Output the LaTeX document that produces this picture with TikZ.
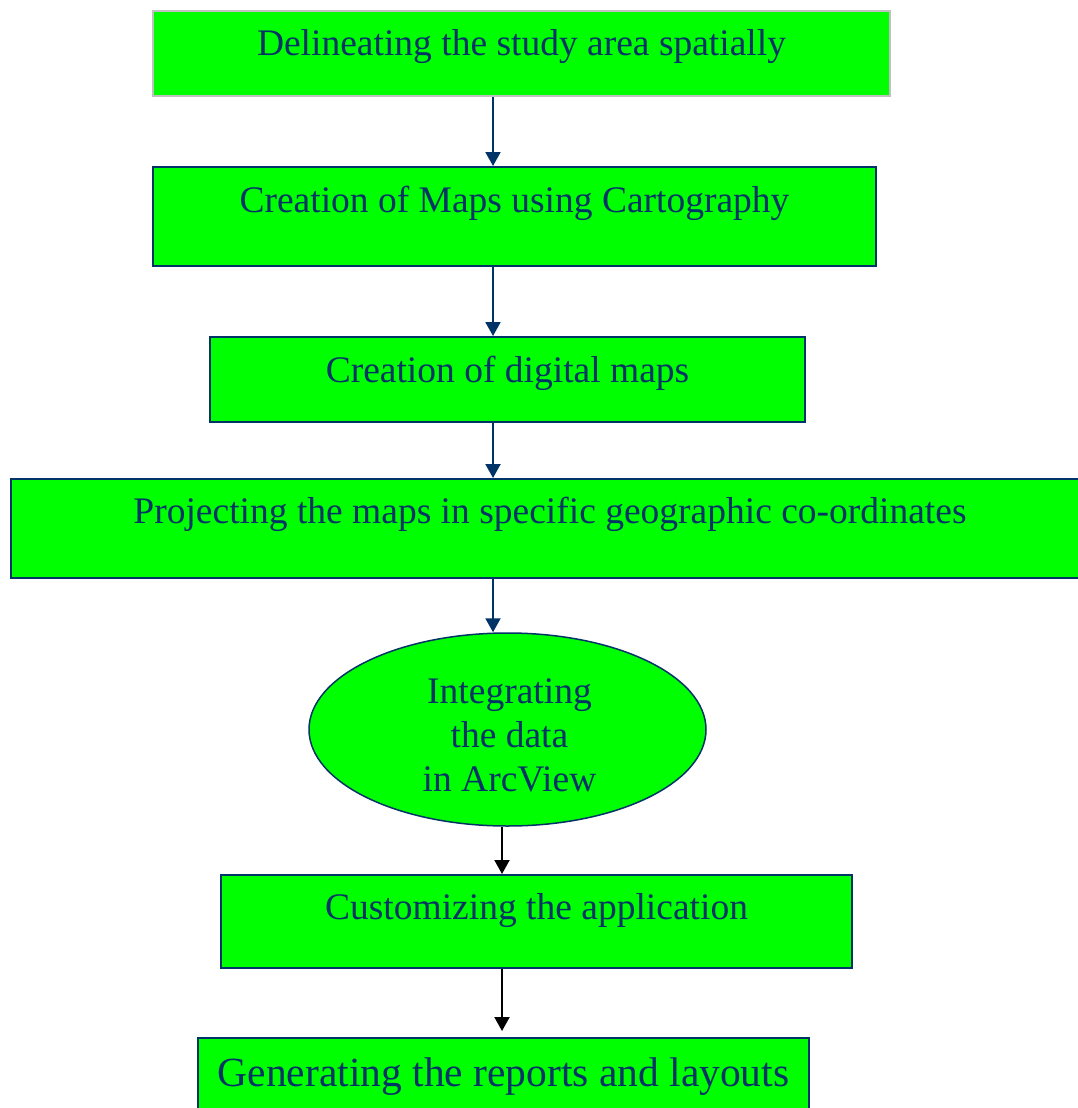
\documentclass[tikz,border=0pt]{standalone}
\usepackage{fontspec}
\setmainfont{Liberation Serif}
\usepackage{tikz}
\usetikzlibrary{shapes.geometric, arrows.meta, positioning}
\definecolor{flownavy}{RGB}{0, 51, 102}
\definecolor{flowgreen}{RGB}{0, 255, 0}
\definecolor{flowgray}{RGB}{192, 192, 192}

\begin{document}
\begin{tikzpicture}[x=1pt, y=-1pt,
  stepbox/.style={draw=flownavy, fill=flowgreen, line width=2pt, inner sep=0pt,
    text=flownavy, font=\fontsize{37.5}{44}\selectfont, anchor=north},
  flow/.style={draw=flownavy, line width=2pt, -{Triangle[width=15pt, length=14pt]}},
  flowblack/.style={draw=black, line width=2pt, -{Triangle[width=15pt, length=14pt]}}]
  \useasboundingbox (0,0) rectangle (1078,1108);

  % Steps
  \node[stepbox, draw=flowgray, minimum width=737pt, text height=45pt, text depth=40pt]
    (delin) at (521.5,10) {Delineating the study area spatially};
  \node[stepbox, minimum width=723pt, text height=45pt, text depth=54pt]
    (carto) at (514.5,166) {Creation of Maps using Cartography};
  \node[stepbox, minimum width=595pt, text height=45pt, text depth=40pt]
    (digit) at (507.5,336) {Creation of digital maps};
  \node[stepbox, minimum width=1078pt, text height=44pt, text depth=55pt]
    (proj) at (550,478) {Projecting the maps in specific geographic co-ordinates};

  % ArcView
  \node[ellipse, draw=flownavy, fill=flowgreen, line width=1.5pt, inner sep=0pt,
    minimum width=397pt, minimum height=193pt]
    (arcv) at (507.5,729.5) {};
  \node[text=flownavy, align=center, font=\fontsize{37.5}{44}\selectfont]
    (arcvtext) at ([yshift=-6pt, xshift=2pt]arcv.center) {Integrating\\ the data\\in ArcView};

  \node[stepbox, minimum width=631pt, text height=44pt, text depth=49pt]
    (custom) at (536.5,874) {Customizing the application};
  \node[stepbox, minimum width=611pt, text height=48pt, text depth=40pt,
    font=\fontsize{41.5}{48}\selectfont]
    (report) at (503.5,1037) {Generating the reports and layouts};

  % Arrows
  \coordinate (ax) at (493,0);
  \coordinate (bx) at (502,0);
  \foreach \a/\b in {delin/carto, carto/digit, digit/proj, proj/arcv} {
    \draw[flow] (\a.south -| ax) -- (\b.north -| ax);
  }
  \draw[flowblack] (arcv.south -| bx) -- (custom.north -| bx);
  \draw[flowblack] (custom.south -| bx) -- ([yshift=6pt]report.north -| bx);
\end{tikzpicture}
\end{document}
